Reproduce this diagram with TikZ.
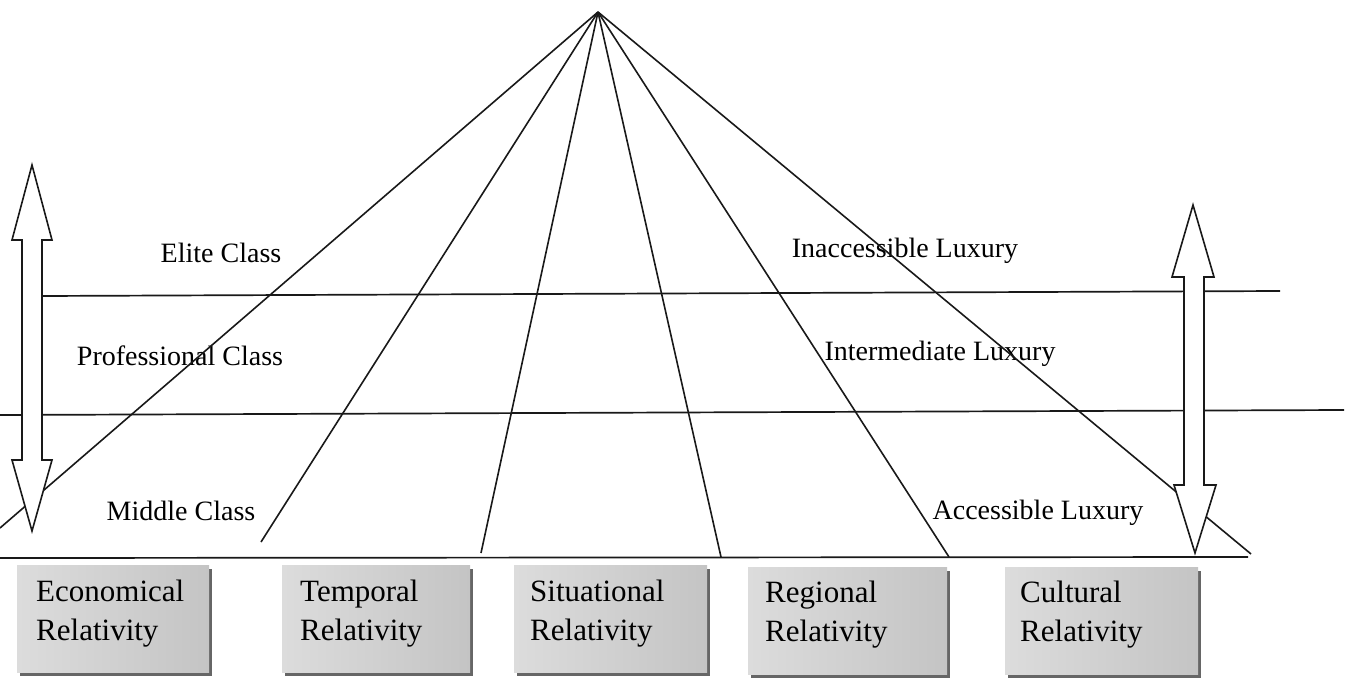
\documentclass[tikz,border=0pt]{standalone}
\usepackage{fontspec}
\setmainfont{Liberation Serif}
\usetikzlibrary{shadows}
\definecolor{boxlight}{HTML}{DCDCDC}
\definecolor{boxdark}{HTML}{C4C4C4}
\definecolor{boxshadow}{HTML}{666666}
\begin{document}
\begin{tikzpicture}[x=1pt,y=-1pt,
  fanline/.style={line width=1.6pt, draw=black!90},
  hline/.style={line width=1.7pt, draw=black!90},
  blockarrow/.style={draw=black!90, line width=1.6pt, fill=white, line join=miter},
  lab/.style={font=\fontsize{28}{32}\selectfont, inner sep=0pt, text=black},
  relbox/.style={draw=none, left color=boxlight, right color=boxdark,
    minimum height=107pt, anchor=north west, inner sep=0pt,
    drop shadow={shadow xshift=3pt, shadow yshift=-4pt, fill=boxshadow, opacity=1}},
  reltext/.style={font=\fontsize{31}{39}\selectfont, align=left, inner sep=0pt, anchor=west, text=black}
]
\useasboundingbox (0,0) rectangle (1356,677);
\fill[white] (0,0) rectangle (1356,677);

% coordinates
\coordinate (apex) at (598,12);
\coordinate (e1) at (0,528);
\coordinate (e2) at (261,542);
\coordinate (e3) at (481,553);
\coordinate (e4) at (721,557);
\coordinate (e5) at (949,557);
\coordinate (e6) at (1251,554);
\coordinate (h1l) at (42,296);
\coordinate (h1r) at (1280,291);
\coordinate (h2l) at (0,415);
\coordinate (h2r) at (1344,410);
\coordinate (bl) at (0,558);
\coordinate (br) at (1248,557);

% labels
\node[lab] (elite) at (221,253) {Elite Class};
\node[lab] (inacc) at (905,251) {Inaccessible Luxury};
\node[lab] (prof) at (180,356) {Professional Class};
\node[lab] (inter) at (940,354) {Intermediate Luxury};
\node[lab] (mid) at (181,511) {Middle Class};
\node[lab] (acc) at (1038,513) {Accessible Luxury};

% horizontal lines
\draw[hline] (h1l) -- (h1r);
\draw[hline] (h2l) -- (h2r);
\draw[hline] (bl) -- (br);

% fan lines
\foreach \e in {e1,e2,e3,e4,e5,e6} \draw[fanline] (apex) -- (\e);

% left double block arrow
\draw[blockarrow] (32,165) -- (52,240) -- (42,240) -- (42,460) -- (52,460)
  -- (32,531) -- (12,460) -- (22,460) -- (22,240) -- (12,240) -- cycle;
% right double block arrow
\draw[blockarrow] (1193,205) -- (1214,277) -- (1204,277) -- (1204,485) -- (1216,485)
  -- (1195,553) -- (1174,485) -- (1184,485) -- (1184,277) -- (1172,277) -- cycle;

% relativity boxes
\node[relbox, minimum width=192pt] (b1) at (17,565) {};
\node[relbox, minimum width=188pt] (b2) at (282,565) {};
\node[relbox, minimum width=193pt] (b3) at (514,565) {};
\node[relbox, minimum width=199pt] (b4) at (748,567) {};
\node[relbox, minimum width=193pt] (b5) at (1005,567) {};

\node[reltext] (t1) at (36,614) {Economical\\Relativity};
\node[reltext] (t2) at (300,614) {Temporal\\Relativity};
\node[reltext] (t3) at (530,614) {Situational\\Relativity};
\node[reltext] (t4) at (765,615) {Regional\\Relativity};
\node[reltext] (t5) at (1020,615) {Cultural\\Relativity};
\end{tikzpicture}
\end{document}
